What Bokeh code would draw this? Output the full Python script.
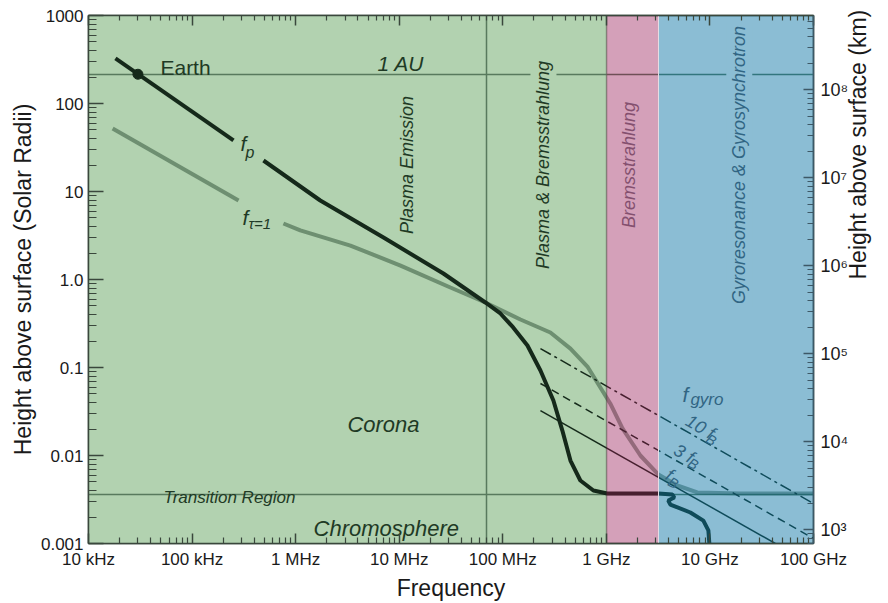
import math

from bokeh.plotting import figure
from bokeh.models import Range1d, LogScale, LogAxis, FixedTicker
from bokeh.core.properties import value
from bokeh.embed import file_html
from bokeh.resources import INLINE

FONT = "Liberation Sans"
SOLAR_RADIUS_KM = 6.96e5

# ---------------------------------------------------------------- data
# emission-mechanism bands along the frequency axis (Hz)
band_start = [1e4, 1e9, 3.16e9]
band_end = [1e9, 3.16e9, 1e11]

au_height = [215.0]            # 1 AU in solar radii
transition_height = [0.0036]   # top of the chromosphere
crossover_freq = [6.9e7]       # where f_p meets f_tau=1

# plasma frequency level f_p (height in solar radii vs frequency in Hz)
fp_outer_freq = [1.82e4, 2.51e5]
fp_outer_height = [325.0, 38.0]
fp_freq = [4.89e5, 1.73e6, 7.05e6, 2.67e7, 6.79e7, 9.48e7, 1.26e8, 1.73e8,
           2.31e8, 3.08e8, 3.76e8, 4.50e8, 5.61e8, 7.50e8, 1.02e9, 3.18e9,
           4.34e9, 4.53e9, 3.96e9, 4.15e9, 6.47e9, 8.64e9, 9.66e9, 9.87e9]
fp_height = [22.5, 7.9, 3.0, 1.17, 0.548, 0.411, 0.285, 0.178,
             0.0925, 0.0422, 0.0192, 0.00877, 0.0052, 0.0040, 0.0037, 0.0037,
             0.0036, 0.00333, 0.00308, 0.00277, 0.00225, 0.00182, 0.00141, 0.001]

earth_freq = [3.0e4]
earth_height = [215.0]

# optical depth unity level f_tau=1
ftau_outer_freq = [1.71e4, 2.81e5]
ftau_outer_height = [52.0, 7.9]
ftau_freq = [7.62e5, 1.11e6, 3.38e6, 1.03e7, 3.12e7, 6.79e7, 1.48e8, 2.88e8,
             4.50e8, 6.56e8, 8.75e8, 1.09e9, 1.43e9, 2.13e9, 3.18e9, 4.84e9,
             7.55e9, 1.96e10, 1e11]
ftau_height = [4.33, 3.61, 2.43, 1.44, 0.811, 0.548, 0.351, 0.250,
               0.164, 0.1025, 0.0593, 0.039, 0.0203, 0.0100, 0.00608, 0.00456,
               0.0038, 0.0037, 0.0037]

# gyrofrequency harmonics
fb1_freq = [2.31e8, 4.28e10]
fb1_height = [0.0324, 0.001]
fb3_freq = [2.31e8, 1e11]
fb3_height = [0.0658, 0.00114]
fb10_freq = [2.31e8, 1e11]
fb10_height = [0.164, 0.00285]

# axis ticks
freq_ticks = [1e4, 1e5, 1e6, 1e7, 1e8, 1e9, 1e10, 1e11]
freq_labels = ["10 kHz", "100 kHz", "1 MHz", "10 MHz", "100 MHz",
               "1 GHz", "10 GHz", "100 GHz"]
radii_ticks = [0.001, 0.01, 0.1, 1.0, 10.0, 100.0, 1000.0]
radii_labels = ["0.001", "0.01", "0.1", "1.0", "10", "100", "1000"]
km_ticks = [1e3, 1e4, 1e5, 1e6, 1e7, 1e8]
km_labels = ["10\u00b3", "10\u2074", "10\u2075", "10\u2076", "10\u2077", "10\u2078"]

freq_minor = [m * 10.0 ** k for k in range(4, 11) for m in range(2, 10)]
radii_minor = [m * 10.0 ** k for k in range(-3, 3) for m in range(2, 10)]
km_minor = [m * 10.0 ** k for k in range(2, 9) for m in range(2, 10)
            if 696.0 <= m * 10.0 ** k <= 6.96e8]

# ---------------------------------------------------------------- styles
GREEN = "#b2d2b0"
PINK_TINT = "#931150"   # drawn at alpha 0.40 over white -> pink band
BLUE_TINT = "#0872a3"   # drawn at alpha 0.47 over white -> blue band
BLUE_BAND = "#8bbdd4"
DARK = "#15291a"
THIN = "#587a5d"
TAU = "#2a4b31"
TEXT_GREEN = "#1f3a25"
TEXT_PINK = "#84506f"
TEXT_BLUE = "#316583"
AXIS_COLOR = "#3a473c"

p = figure(width=888, height=603, x_axis_type="log", y_axis_type="log",
           x_range=Range1d(1e4, 1e11), y_range=Range1d(1e-3, 1e3),
           output_backend="svg", toolbar_location=None,
           min_border_left=88, min_border_right=75,
           min_border_top=15, min_border_bottom=60,
           background_fill_color="white", border_fill_color="white")
p.outline_line_color = AXIS_COLOR
p.outline_line_width = 1.5
p.grid.visible = False
p.extra_y_ranges = {"km": Range1d(1e-3 * SOLAR_RADIUS_KM, 1e3 * SOLAR_RADIUS_KM)}
p.extra_y_scales = {"km": LogScale()}


def style_axis(ax, major_in, minor_in):
    ax.axis_line_color = AXIS_COLOR
    ax.axis_line_width = 1.5
    ax.major_tick_line_color = AXIS_COLOR
    ax.minor_tick_line_color = AXIS_COLOR
    ax.major_tick_line_width = 1.5
    ax.minor_tick_line_width = 1.2
    ax.major_tick_in = major_in
    ax.major_tick_out = 0
    ax.minor_tick_in = minor_in
    ax.minor_tick_out = 0
    ax.major_label_text_font = FONT
    ax.major_label_text_font_size = "17px"
    ax.major_label_text_color = "#1a1a1a"
    ax.axis_label_text_font = FONT
    ax.axis_label_text_font_size = "23px"
    ax.axis_label_text_font_style = "normal"
    ax.axis_label_text_color = "#1a1a1a"


xaxis = p.xaxis[0]
xaxis.ticker = FixedTicker(ticks=freq_ticks, minor_ticks=freq_minor)
xaxis.major_label_overrides = dict(zip(freq_ticks, freq_labels))
xaxis.axis_label = "Frequency"
style_axis(xaxis, 10, 6)
xaxis.major_label_standoff = 6
xaxis.axis_label_standoff = 3

yaxis = p.yaxis[0]
yaxis.ticker = FixedTicker(ticks=radii_ticks, minor_ticks=radii_minor)
yaxis.major_label_overrides = dict(zip(radii_ticks, radii_labels))
yaxis.axis_label = "Height above surface (Solar Radii)"
style_axis(yaxis, 15, 8)
yaxis.major_label_standoff = 5
yaxis.axis_label_standoff = 2

# top edge carries ticks only
top_axis = LogAxis(ticker=FixedTicker(ticks=freq_ticks, minor_ticks=freq_minor))
style_axis(top_axis, 10, 5)
top_axis.major_label_text_font_size = "2px"
top_axis.major_label_text_color = None
top_axis.major_label_standoff = 0
p.add_layout(top_axis, "above")

km_axis = LogAxis(y_range_name="km",
                  ticker=FixedTicker(ticks=km_ticks, minor_ticks=km_minor),
                  axis_label="Height above surface (km)")
km_axis.major_label_overrides = dict(zip(km_ticks, km_labels))
style_axis(km_axis, 10, 6)
km_axis.major_label_text_font_size = "18px"
km_axis.axis_line_color = "#3d5866"
km_axis.major_tick_line_color = "#3d5866"
km_axis.minor_tick_line_color = "#3d5866"
km_axis.major_label_standoff = 7
km_axis.axis_label_standoff = 7
km_axis.axis_label_orientation = math.pi / 2
p.add_layout(km_axis, "right")


def label(x, y, txt, size, color=TEXT_GREEN, style="italic", angle=0,
          align="left", baseline="alphabetic", dx=0, dy=0, **kw):
    p.text(x=[x], y=[y], text=[txt], text_font=value(FONT),
           text_font_size=value(size), text_font_style=style,
           text_color=color, angle=angle, angle_units="deg",
           text_align=align, text_baseline=baseline,
           x_offset=dx, y_offset=dy, **kw)


# ---------------------------------------------------------------- plasma band + reference lines
p.vstrip(x0=band_start[:1], x1=band_end[:1], fill_color=GREEN, line_color=None)
p.vspan(x=band_end[:1], line_color="#7f9c81", line_width=1.5)
p.hspan(y=au_height, line_color=THIN, line_width=1.5)
p.hspan(y=transition_height, line_color=THIN, line_width=1.5)
p.vspan(x=crossover_freq, line_color=THIN, line_width=1.5)

label(2.47e8, 20.0, "Plasma & Bremsstrahlung", "18px", angle=90,
      align="center", baseline="middle",
      background_fill_color=GREEN, padding=3)

# ---------------------------------------------------------------- curves
p.line(ftau_outer_freq, ftau_outer_height, line_color=TAU, line_alpha=0.5, line_width=4)
p.line(ftau_freq, ftau_height, line_color=TAU, line_alpha=0.5, line_width=4)
p.line(fp_outer_freq, fp_outer_height, line_color=DARK, line_width=4)
p.line(fp_freq, fp_height, line_color=DARK, line_width=4)
p.scatter(earth_freq, earth_height, size=10, color=DARK)

p.line(fb1_freq, fb1_height, line_color=DARK, line_width=1.5)
p.line(fb3_freq, fb3_height, line_color=DARK, line_width=1.5, line_dash="8 5")
p.line(fb10_freq, fb10_height, line_color=DARK, line_width=1.5, line_dash="12 4 3 4")

# ---------------------------------------------------------------- bremsstrahlung / gyro bands
p.vstrip(x0=band_start[1:2], x1=band_end[1:2], fill_color=PINK_TINT,
         fill_alpha=0.40, line_color=None)
p.vstrip(x0=band_start[2:], x1=band_end[2:], fill_color=BLUE_TINT,
         fill_alpha=0.47, line_color=None)
p.vspan(x=band_end[1:2], line_color="#e6dce3", line_width=1)

# ---------------------------------------------------------------- annotations
label(1.19e7, 20.0, "Plasma Emission", "18px", angle=90, align="center", baseline="middle")
label(1.65e9, 20.0, "Bremsstrahlung", "18px", color=TEXT_PINK, angle=90,
      align="center", baseline="middle")
label(1.92e10, 20.0, "Gyroresonance & Gyrosynchrotron", "18px", color=TEXT_BLUE,
      angle=90, align="center", baseline="middle",
      background_fill_color=BLUE_BAND, padding=3)

label(4.95e4, 256.0, "Earth", "21px", style="normal")
label(6.17e6, 285.0, "1 AU", "21px")
label(3.16e6, 0.0225, "Corona", "22px")
label(1.49e6, 0.00148, "Chromosphere", "22px")
label(5.3e4, 0.00333, "Transition Region", "17px")

label(2.93e5, 35.1, "f", "21px")
label(2.93e5, 35.1, "p", "16px", dx=5, dy=9)
label(3.06e5, 5.07, "f", "21px")
label(3.06e5, 5.07, "\u03c4=1", "15px", dx=6, dy=6)

label(5.42e9, 0.0493, "f", "21px", color=TEXT_BLUE)
label(5.42e9, 0.0493, "gyro", "17px", color=TEXT_BLUE, dx=8, dy=5)

label(6.05e9, 0.0257, "10 f", "18px", color=TEXT_BLUE, angle=-30)
label(6.05e9, 0.0257, "B", "14px", color=TEXT_BLUE, angle=-30, dx=20, dy=18)
label(4.63e9, 0.0120, "3 f", "18px", color=TEXT_BLUE, angle=-30)
label(4.63e9, 0.0120, "B", "14px", color=TEXT_BLUE, angle=-30, dx=14, dy=13)
label(3.88e9, 0.00624, "f", "18px", color=TEXT_BLUE, angle=-30)
label(3.88e9, 0.00624, "B", "14px", color=TEXT_BLUE, angle=-30, dx=2, dy=7)

open("out.html", "w").write(file_html(p, INLINE))
